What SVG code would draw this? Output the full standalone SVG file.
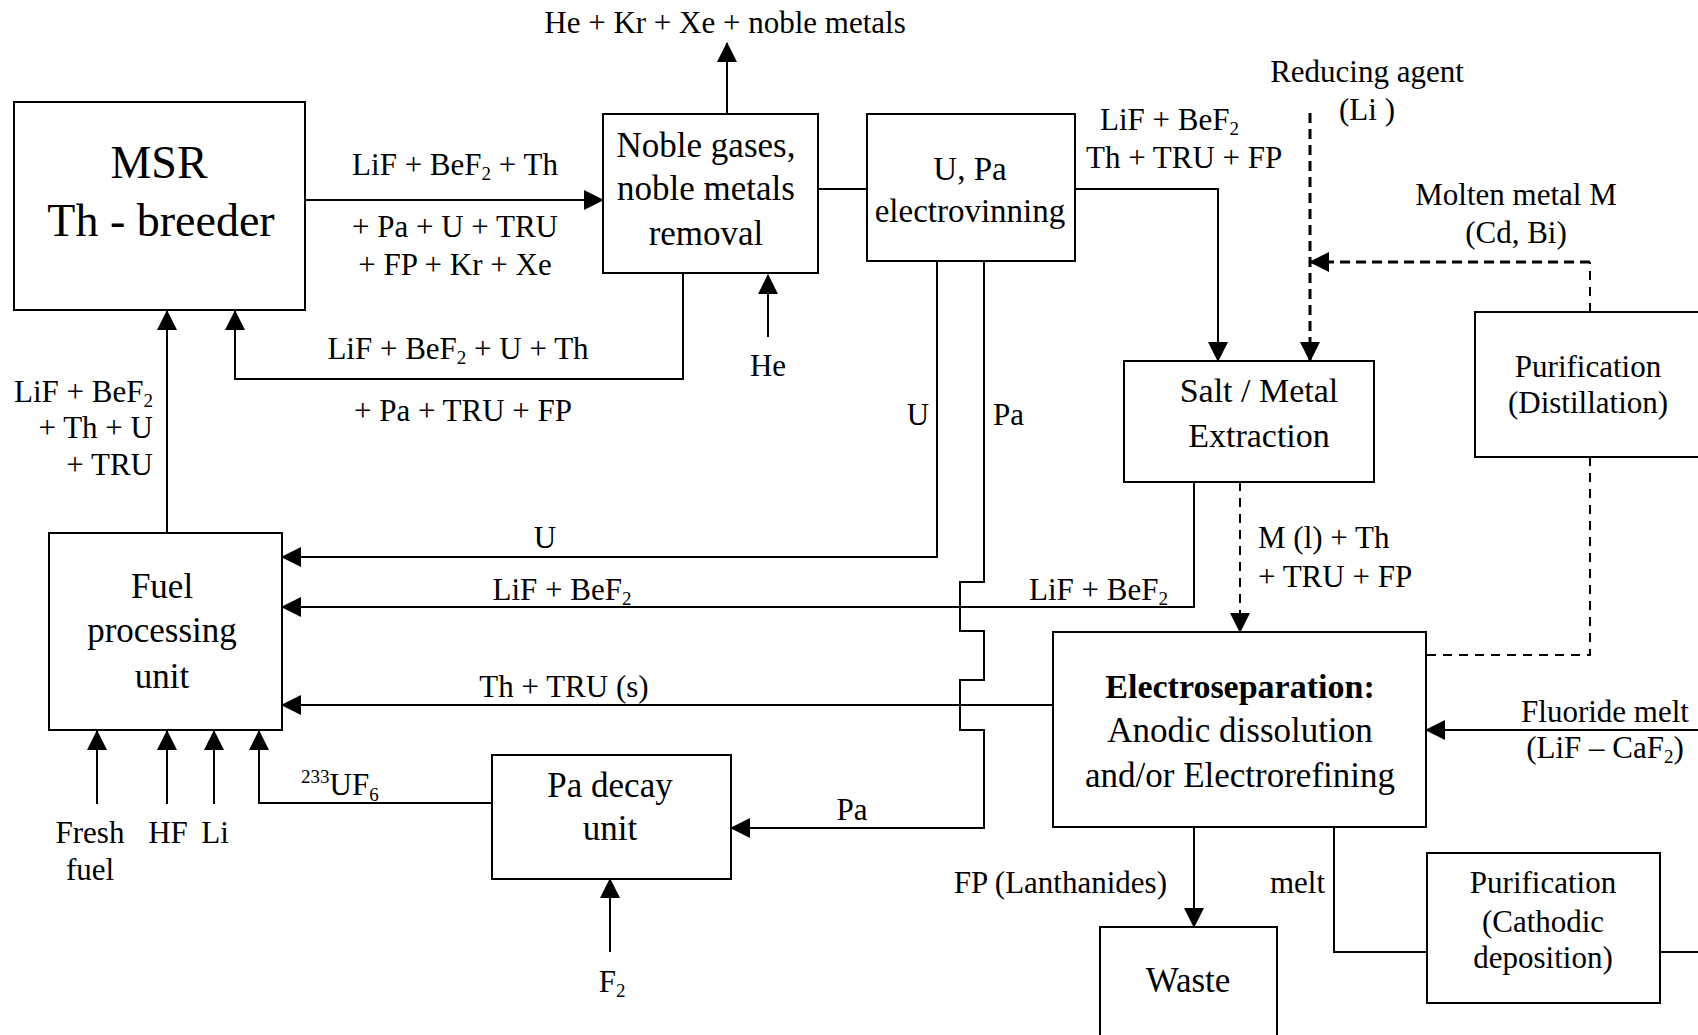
<svg xmlns="http://www.w3.org/2000/svg" width="1698" height="1035" viewBox="0 0 1698 1035">
<defs>
<marker id="arr" markerUnits="userSpaceOnUse" markerWidth="20" markerHeight="20" viewBox="0 0 20 20" refX="19" refY="10" orient="auto">
<path d="M0,0 L20,10 L0,20 Z" fill="#000"/>
</marker>
</defs>
<style>
text{font-family:"Liberation Serif","Times New Roman",serif;fill:#000}
.lb{font-size:31px}
.bx{font-size:35px}
.sm{font-size:31px}
.c{text-anchor:middle}
.e{text-anchor:end}
.sub{font-size:19px}
.node rect{fill:#fff;stroke:#000;stroke-width:2}
.ln{fill:none;stroke:#000;stroke-width:2}
.ar{marker-end:url(#arr)}
.dk{fill:none;stroke:#000;stroke-width:3;stroke-dasharray:10 6}
.dt{fill:none;stroke:#000;stroke-width:2;stroke-dasharray:9 7}
</style>
<rect x="0" y="0" width="1698" height="1035" fill="#fff"/>

<g id="connectors">
<path class="ln ar" d="M305,200 H603"/>
<path class="ln ar" d="M727,114 V43"/>
<path class="ln ar" d="M768,337 V275"/>
<path class="ln ar" d="M683,273 V379 H235 V311"/>
<path class="ln" d="M818,189 H867"/>
<path class="ln ar" d="M1075,189 H1218 V361"/>
<path class="dk ar" d="M1310,113 V361"/>
<path class="dt" d="M1590,312 V262"/>
<path class="dk ar" d="M1590,262 H1310"/>
<path class="ln ar" d="M937,261 V557 H282"/>
<path class="ln ar" d="M984,261 V582 H960 V631 H984 V680 H960 V730 H984 V828 H731"/>
<path class="ln ar" d="M1194,482 V607 H282"/>
<path class="dt ar" d="M1240,482 V632"/>
<path class="ln ar" d="M1053,705 H282"/>
<path class="dt" d="M1590,457 V655 H1426"/>
<path class="ln ar" d="M1698,730 H1426"/>
<path class="ln ar" d="M1194,827 V927"/>
<path class="ln" d="M1334,827 V952 H1427"/>
<path class="ln" d="M1660,952 H1698"/>
<path class="ln ar" d="M167,533 V311"/>
<path class="ln ar" d="M97,804 V731"/>
<path class="ln ar" d="M167,804 V731"/>
<path class="ln ar" d="M214,804 V731"/>
<path class="ln ar" d="M492,803 H259 V731"/>
<path class="ln ar" d="M610,952 V879"/>
</g>

<g id="labels">
<text class="lb c" x="725" y="33">He + Kr + Xe + noble metals</text>
<text class="lb c" x="455" y="175">LiF + BeF<tspan class="sub" dy="5">2</tspan><tspan dy="-5"> + Th</tspan></text>
<text class="lb c" x="455" y="237">+ Pa + U + TRU</text>
<text class="lb c" x="455" y="275">+ FP + Kr + Xe</text>
<text class="lb c" x="458" y="359">LiF + BeF<tspan class="sub" dy="5">2</tspan><tspan dy="-5"> + U + Th</tspan></text>
<text class="lb c" x="463" y="421">+ Pa + TRU + FP</text>
<text class="lb c" x="768" y="376">He</text>
<text class="lb" x="1100" y="130">LiF + BeF<tspan class="sub" dy="5">2</tspan></text>
<text class="lb" x="1086" y="168">Th + TRU + FP</text>
<text class="lb c" x="1367" y="82">Reducing agent</text>
<text class="lb c" x="1367" y="120">(Li )</text>
<text class="lb c" x="1516" y="205">Molten metal M</text>
<text class="lb c" x="1516" y="243">(Cd, Bi)</text>
<text class="lb c" x="918" y="425">U</text>
<text class="lb" x="993" y="425">Pa</text>
<text class="lb e" x="153" y="402">LiF + BeF<tspan class="sub" dy="5">2</tspan></text>
<text class="lb e" x="153" y="438">+ Th + U</text>
<text class="lb e" x="153" y="475">+ TRU</text>
<text class="lb c" x="545" y="548">U</text>
<text class="lb c" x="562" y="600">LiF + BeF<tspan class="sub" dy="5">2</tspan></text>
<text class="lb e" x="1168" y="600">LiF + BeF<tspan class="sub" dy="5">2</tspan></text>
<text class="lb" x="1258" y="548">M (l) + Th</text>
<text class="lb" x="1258" y="587">+ TRU + FP</text>
<text class="lb c" x="564" y="697">Th + TRU (s)</text>
<text class="lb c" x="1605" y="722">Fluoride melt</text>
<text class="lb c" x="1605" y="758">(LiF – CaF<tspan class="sub" dy="5">2</tspan><tspan dy="-5">)</tspan></text>
<text class="lb" x="301" y="795"><tspan class="sub" dy="-12">233</tspan><tspan dy="12">UF</tspan><tspan class="sub" dy="6">6</tspan></text>
<text class="lb c" x="852" y="820">Pa</text>
<text class="lb c" x="90" y="843">Fresh</text>
<text class="lb c" x="90" y="880">fuel</text>
<text class="lb c" x="168" y="843">HF</text>
<text class="lb c" x="215" y="843">Li</text>
<text class="lb c" x="612" y="992">F<tspan class="sub" dy="5">2</tspan></text>
<text class="lb e" x="1167" y="893">FP (Lanthanides)</text>
<text class="lb e" x="1325" y="893">melt</text>
</g>

<g id="msr" class="node">
<rect x="14" y="102" width="291" height="208"/>
<text x="159" y="178" class="c" style="font-size:46px">MSR</text>
<text x="161" y="236" class="c" style="font-size:46px">Th - breeder</text>
</g>

<g id="noble" class="node">
<rect x="603" y="114" width="215" height="159"/>
<text class="bx c" x="706" y="157">Noble gases,</text>
<text class="bx c" x="706" y="200">noble metals</text>
<text class="bx c" x="706" y="245">removal</text>
</g>

<g id="electrovinning" class="node">
<rect x="867" y="114" width="208" height="147"/>
<text class="c" style="font-size:33px" x="970" y="180">U, Pa</text>
<text class="c" style="font-size:33px" x="970" y="222">electrovinning</text>
</g>

<g id="salt-metal" class="node">
<rect x="1124" y="361" width="250" height="121"/>
<text class="c" style="font-size:34px" x="1259" y="402">Salt / Metal</text>
<text class="c" style="font-size:34px" x="1259" y="447">Extraction</text>
</g>

<g id="purification-distillation" class="node">
<rect x="1475" y="312" width="230" height="145"/>
<text class="sm c" x="1588" y="377">Purification</text>
<text class="sm c" x="1588" y="413">(Distillation)</text>
</g>

<g id="fuel-processing" class="node">
<rect x="49" y="533" width="233" height="197"/>
<text class="bx c" x="162" y="598">Fuel</text>
<text class="bx c" x="162" y="642">processing</text>
<text class="bx c" x="162" y="688">unit</text>
</g>

<g id="electroseparation" class="node">
<rect x="1053" y="632" width="373" height="195"/>
<text class="c" style="font-size:34px;font-weight:bold" x="1240" y="698">Electroseparation:</text>
<text class="bx c" x="1240" y="742">Anodic dissolution</text>
<text class="bx c" x="1240" y="787">and/or Electrorefining</text>
</g>

<g id="pa-decay" class="node">
<rect x="492" y="755" width="239" height="124"/>
<text class="bx c" x="610" y="797">Pa decay</text>
<text class="bx c" x="610" y="840">unit</text>
</g>

<g id="waste" class="node">
<rect x="1100" y="927" width="177" height="120"/>
<text class="bx c" x="1188" y="992">Waste</text>
</g>

<g id="purification-cathodic" class="node">
<rect x="1427" y="853" width="233" height="150"/>
<text class="sm c" x="1543" y="893">Purification</text>
<text class="sm c" x="1543" y="932">(Cathodic</text>
<text class="sm c" x="1543" y="968">deposition)</text>
</g>
</svg>
